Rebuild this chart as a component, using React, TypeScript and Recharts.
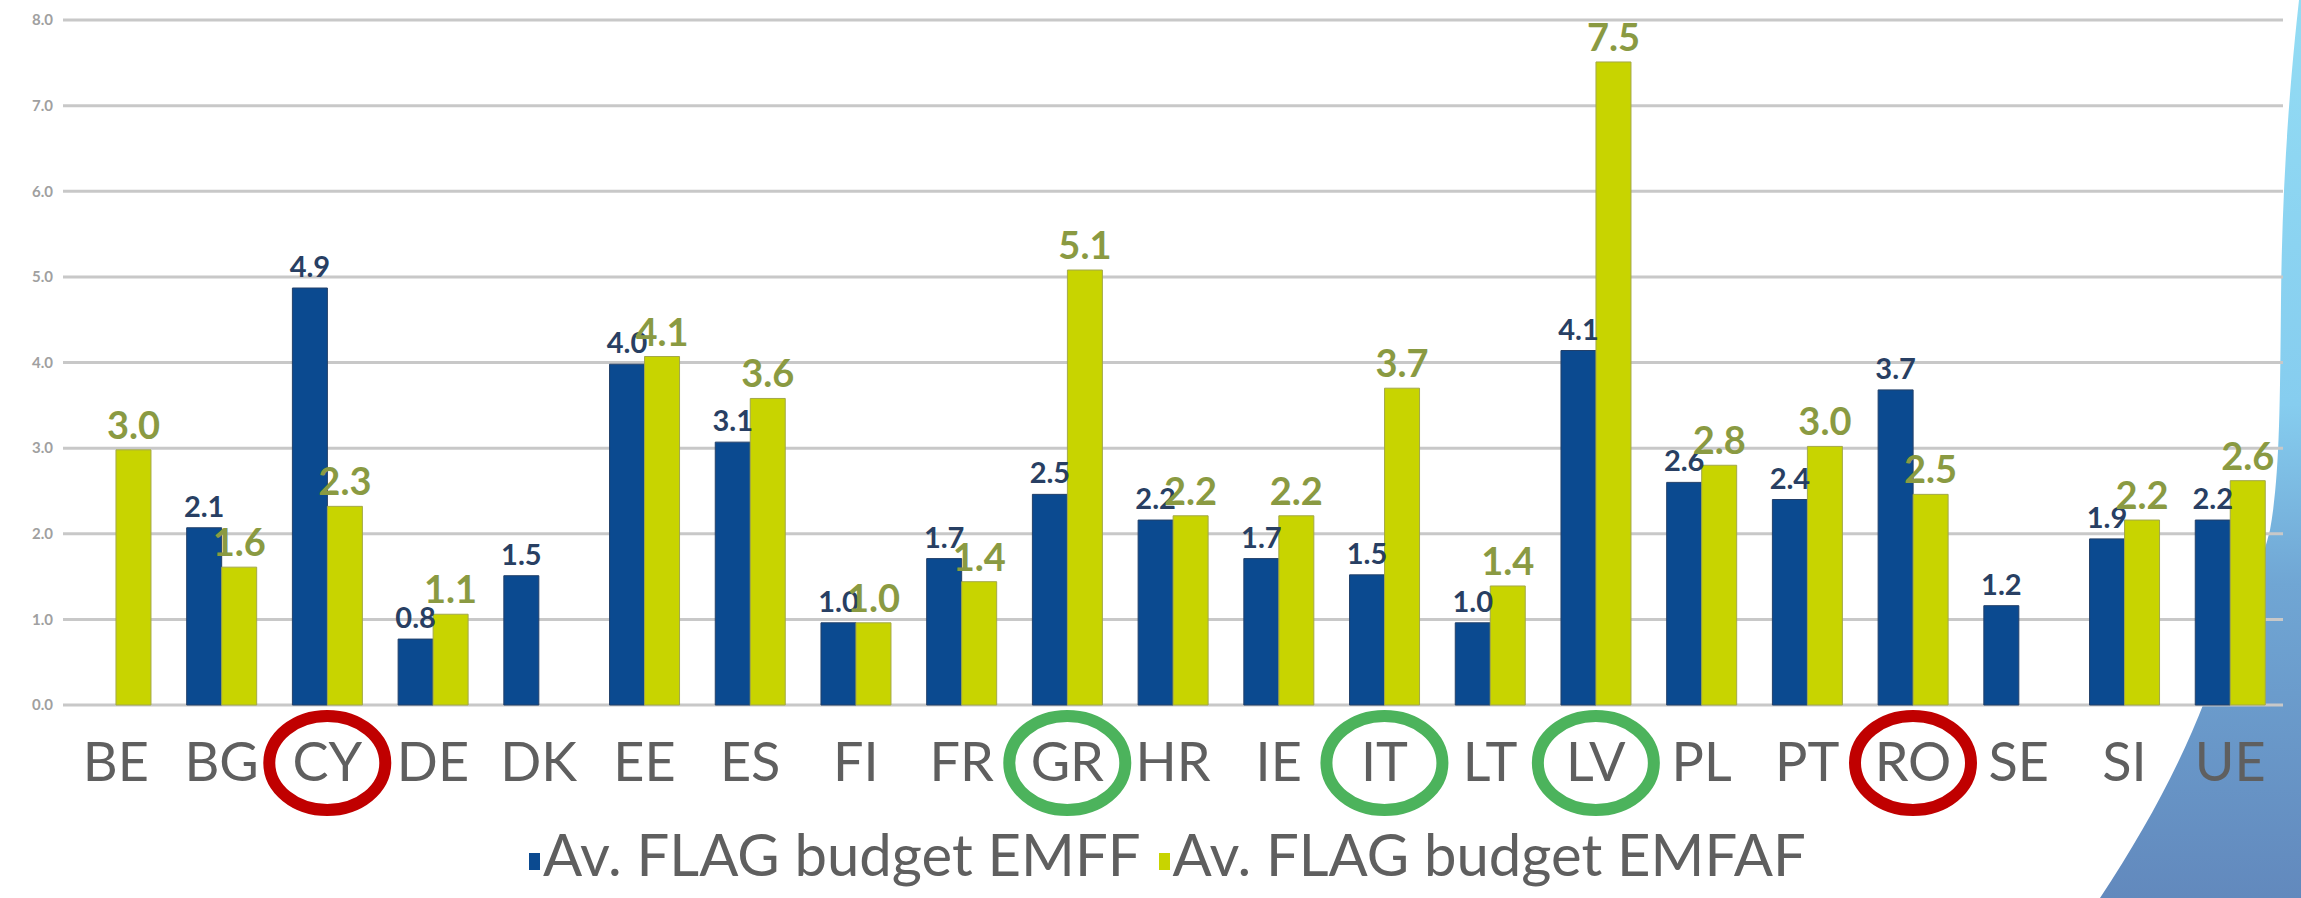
import { BarChart, Bar, XAxis, YAxis, CartesianGrid, Legend, LabelList, ReferenceDot } from "recharts";

const countries = ["BE", "BG", "CY", "DE", "DK", "EE", "ES", "FI", "FR", "GR", "HR", "IE", "IT", "LT", "LV", "PL", "PT", "RO", "SE", "SI", "UE"];
const emff = [null, 2.07, 4.87, 0.77, 1.51, 3.98, 3.07, 0.96, 1.71, 2.46, 2.16, 1.71, 1.52, 0.96, 4.14, 2.6, 2.4, 3.68, 1.16, 1.94, 2.16];
const emfaf = [2.98, 1.61, 2.32, 1.06, null, 4.07, 3.58, 0.96, 1.44, 5.08, 2.21, 2.21, 3.7, 1.39, 7.51, 2.8, 3.02, 2.46, null, 2.16, 2.62];
const yTicks = [0, 1, 2, 3, 4, 5, 6, 7, 8];
const redMarks = ["CY", "RO"];
const greenMarks = ["GR", "IT", "LV"];

const seriesNames = ["Av. FLAG budget EMFF", "Av. FLAG budget EMFAF"];
const BLUE = "#0b4a90";
const YELLOW = "#c8d400";

const data = countries.map((c, i) => ({ country: c, emff: emff[i], emfaf: emfaf[i] }));

const FONT = "Lato, 'Open Sans', sans-serif";

function valueLabel(color: string, size: number) {
  return (props: any) => {
    const { x, y, width, value } = props;
    if (value == null) return null;
    return (
      <text x={x + width / 2} y={y - 11} textAnchor="middle" fill={color} fontSize={size} fontWeight={700} fontFamily={FONT}>
        {Number(value).toFixed(1)}
      </text>
    );
  };
}

function CountryTick(props: any) {
  const { x, y, payload } = props;
  return (
    <text x={x} y={y + 68} textAnchor="middle" fill="#5f5f5f" fontSize={54} fontFamily={FONT}>
      {payload.value}
    </text>
  );
}

function Ring(color: string) {
  return (props: any) => {
    const { cx, cy } = props;
    return <ellipse cx={cx} cy={cy + 58} rx={58} ry={47} fill="none" stroke={color} strokeWidth={12} />;
  };
}

function LegendBox() {
  const colors = [BLUE, YELLOW];
  return (
    <div style={{ display: "flex", justifyContent: "center", gap: 18, fontFamily: FONT, fontSize: 58, color: "#5f5f5f", lineHeight: "62px", paddingTop: 18, paddingLeft: 52 }}>
      {seriesNames.map((n, i) => (
        <div key={n} style={{ display: "flex", alignItems: "flex-end" }}>
          <span style={{ display: "inline-block", width: 11, height: 17, background: colors[i], marginBottom: 15, marginRight: 3 }} />
          <span>{n}</span>
        </div>
      ))}
    </div>
  );
}

export default function App() {
  return (
    <div style={{ position: "absolute", left: 0, top: 0, width: 2301, height: 898, background: "#fff", overflow: "hidden" }}>
      <svg width={2301} height={898} style={{ position: "absolute", left: 0, top: 0 }}>
        <defs>
          <linearGradient id="wave" x1="0" y1="0" x2="0" y2="1">
            <stop offset="0" stopColor="#93dcf4" />
            <stop offset="0.45" stopColor="#86cdef" />
            <stop offset="0.65" stopColor="#70a6d4" />
            <stop offset="1" stopColor="#6289bd" />
          </linearGradient>
        </defs>
        <path
          d="M 2301 0 L 2299 0 C 2289 90, 2282 190, 2281 300 C 2280 420, 2279 480, 2270 530 C 2255 590, 2225 650, 2205 700 C 2180 765, 2145 830, 2100 898 L 2301 898 Z"
          fill="url(#wave)"
        />
      </svg>
      <div style={{ position: "absolute", left: 0, top: 0 }}>
        <BarChart width={2301} height={898} data={data} margin={{ top: 20, right: 18, bottom: 0, left: 0 }} barGap={0} barCategoryGap="17%">
          <CartesianGrid vertical={false} stroke="#c8c8c8" strokeWidth={3} />
          <XAxis dataKey="country" axisLine={false} tickLine={false} height={100} interval={0} tick={<CountryTick />} />
          <YAxis
            width={63}
            domain={[0, 8]}
            ticks={yTicks}
            axisLine={false}
            tickLine={false}
            tickMargin={4}
            tickFormatter={(v: number) => v.toFixed(1)}
            tick={{ fontSize: 15, fill: "#a0a0a0", fontWeight: 700, fontFamily: FONT }}
          />
          <Legend verticalAlign="bottom" height={93} content={<LegendBox />} />
          <Bar dataKey="emff" name={seriesNames[0]} fill={BLUE} stroke="#23406a" strokeWidth={1} isAnimationActive={false}>
            <LabelList dataKey="emff" content={valueLabel("#283f63", 29)} />
          </Bar>
          <Bar dataKey="emfaf" name={seriesNames[1]} fill={YELLOW} stroke="#a3a84a" strokeWidth={1} isAnimationActive={false}>
            <LabelList dataKey="emfaf" content={valueLabel("#8a9a42", 38)} />
          </Bar>
          {redMarks.map((c) => (
            <ReferenceDot key={c} x={c} y={0} r={1} shape={Ring("#c00000")} />
          ))}
          {greenMarks.map((c) => (
            <ReferenceDot key={c} x={c} y={0} r={1} shape={Ring("#4cb35c")} />
          ))}
        </BarChart>
      </div>
    </div>
  );
}
